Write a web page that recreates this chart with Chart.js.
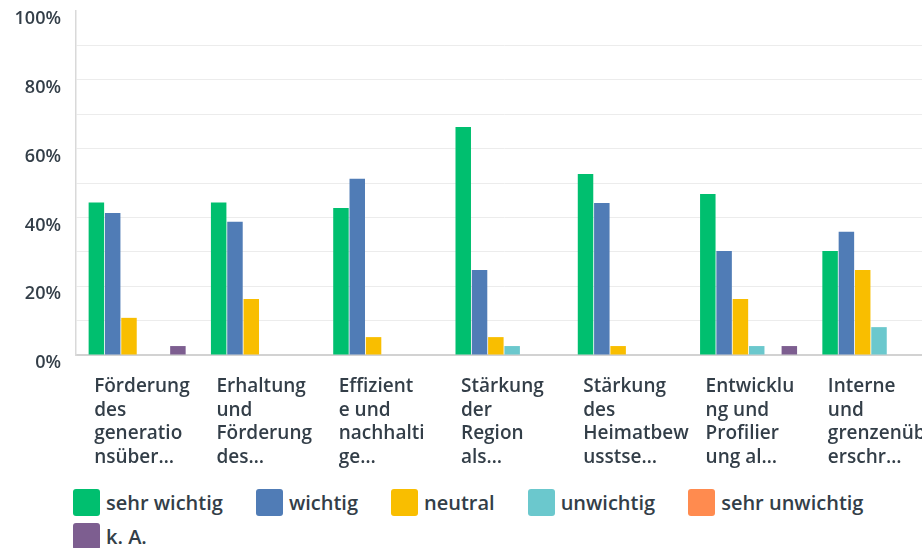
<!DOCTYPE html>
<html>
<head>
<meta charset="utf-8">
<script src="https://cdn.jsdelivr.net/npm/chart.js@4.4.1/dist/chart.umd.min.js"></script>
<style>
  html, body { margin: 0; padding: 0; background: #fff; width: 922px; height: 548px; overflow: hidden; }
  #wrap { position: absolute; left: 0; top: 0; width: 932px; height: 475px; }
  #legend { position: absolute; left: 73px; top: 489px; width: 830px; display: flex; flex-wrap: wrap; row-gap: 7px;
            font: 600 20px "Open Sans", sans-serif; color: #333e48; }
  .item { display: flex; align-items: center; margin-right: 33px; height: 27px; }
  .box { width: 27px; height: 27px; border-radius: 3px; margin-right: 6px; }
</style>
</head>
<body>
<div id="wrap"><canvas id="chart"></canvas></div>
<div id="legend"></div>
<script>
const categories = [
  ['Förderung', 'des', 'generatio', 'nsüber…'],
  ['Erhaltung', 'und', 'Förderung', 'des…'],
  ['Effizient', 'e und', 'nachhalti', 'ge…'],
  ['Stärkung', 'der', 'Region', 'als…'],
  ['Stärkung', 'des', 'Heimatbew', 'usstse…'],
  ['Entwicklu', 'ng und', 'Profilier', 'ung al…'],
  ['Interne', 'und', 'grenzenüb', 'erschr…'],
];
const seriesNames = ['sehr wichtig', 'wichtig', 'neutral', 'unwichtig', 'sehr unwichtig', 'k. A.'];
const seriesColors = ['#00bf6f', '#507cb6', '#f9be00', '#6bc8cd', '#ff8b4f', '#7d5e90'];

const sehrWichtig   = [44.3, 44.3, 42.7, 66.3, 52.6, 46.8, 30.2];
const wichtig       = [41.3, 38.7, 51.2, 24.7, 44.2, 30.2, 35.8];
const neutral       = [10.8, 16.3, 5.2, 5.2, 2.6, 16.3, 24.7];
const unwichtig     = [0, 0, 0, 2.6, 0, 2.6, 8.1];
const sehrUnwichtig = [0, 0, 0, 0, 0, 0, 0];
const kA            = [2.6, 0, 0, 0, 0, 2.6, 0];
const series = [sehrWichtig, wichtig, neutral, unwichtig, sehrUnwichtig, kA];

const yLabelled = [0, 20, 40, 60, 80, 100];

const textColor = '#333e48';

const chart = new Chart(document.getElementById('chart'), {
  type: 'bar',
  data: {
    labels: categories,
    datasets: series.map((data, i) => ({
      label: seriesNames[i],
      data,
      backgroundColor: seriesColors[i],
      borderWidth: 0,
      barPercentage: 0.95,
      categoryPercentage: 0.8,
    })),
  },
  options: {
    responsive: true,
    maintainAspectRatio: false,
    animation: false,
    layout: { padding: { top: 11, right: 0, left: 0, bottom: 0 } },
    plugins: { legend: { display: false }, tooltip: { enabled: false } },
    scales: {
      x: {
        grid: { display: false, drawTicks: false },
        border: { color: '#d2d2d2', width: 2 },
        ticks: {
          align: 'start',
          autoSkip: false,
          maxRotation: 0,
          padding: 20,
          labelOffset: -43,
          color: textColor,
          font: { family: '"Open Sans", sans-serif', size: 19, weight: '600', lineHeight: 1.24 },
        },
        afterFit: (s) => { s.paddingLeft = 0; s.paddingRight = 0; s.height = 120; },
      },
      y: {
        min: 0,
        max: 100,
        grid: {
          drawTicks: false,
          color: (ctx) => (ctx.tick && (ctx.tick.value === 100 || ctx.tick.value === 0)) ? 'rgba(0,0,0,0)' : '#ececec',
        },
        border: { color: '#d9d9d9', width: 1.5 },
        ticks: {
          stepSize: 10,
          padding: 15,
          labelOffset: 8,
          color: textColor,
          font: { family: '"Open Sans", sans-serif', size: 18, weight: '600' },
          callback: (v) => yLabelled.includes(v) ? v + '%' : '',
        },
        afterFit: (s) => { s.width = 76; s.paddingTop = 0; s.paddingBottom = 0; },
      },
    },
  },
});

document.getElementById('legend').innerHTML = chart.data.datasets.map(d => `
  <div class="item"><div class="box" style="background:${d.backgroundColor}"></div><span>${d.label}</span></div>
`).join('');
</script>
</body>
</html>
